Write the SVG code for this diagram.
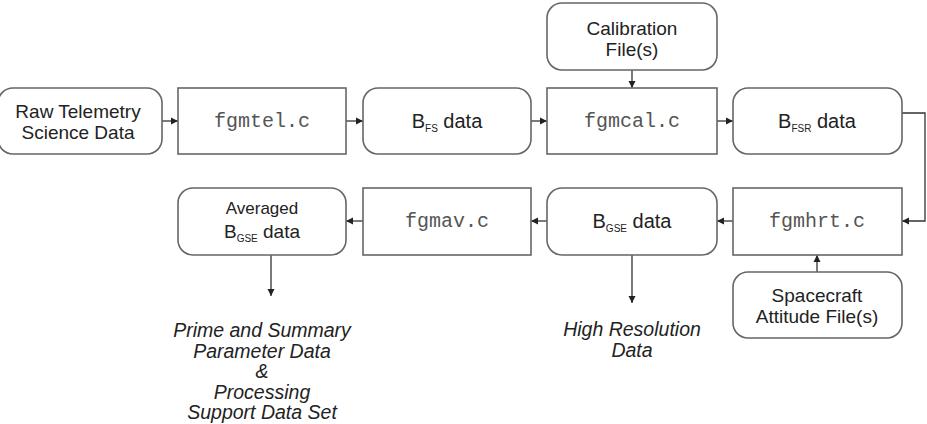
<svg xmlns="http://www.w3.org/2000/svg" width="927" height="424" viewBox="0 0 927 424">
<defs>
<marker id="ah" markerWidth="8" markerHeight="8" refX="7" refY="4" orient="auto" markerUnits="userSpaceOnUse">
<path d="M0,0.5 L7,4 L0,7.5 Z" fill="#222"/>
</marker>
<style>
.rn{fill:#fff;stroke:#666;stroke-width:1.6}
.sq{fill:#fff;stroke:#666;stroke-width:1.6}
.t{font-family:"Liberation Sans",Arial,sans-serif;font-size:19px;fill:#222;text-anchor:middle}
.ts{font-family:"Liberation Sans",Arial,sans-serif;font-size:17px;fill:#222;text-anchor:middle}
.sub{font-size:10px}
.m{font-family:"Liberation Mono","Courier New",monospace;font-size:20px;fill:#555;text-anchor:middle}
.it{font-family:"Liberation Sans",Arial,sans-serif;font-size:19.5px;font-style:italic;fill:#222;text-anchor:middle}
.c{fill:none;stroke:#333;stroke-width:1.3;marker-end:url(#ah)}
</style>
</defs>
<rect width="927" height="424" fill="#fff"/>
<g id="connectors">
<line class="c" x1="162" y1="121" x2="178" y2="121"/>
<line class="c" x1="346" y1="121" x2="363" y2="121"/>
<line class="c" x1="531" y1="121" x2="547" y2="121"/>
<line class="c" x1="717" y1="121" x2="733" y2="121"/>
<line class="c" x1="632" y1="70" x2="632" y2="88"/>
<polyline class="c" points="902,113 925,113 925,221 902,221"/>
<line class="c" x1="733" y1="221" x2="717" y2="221"/>
<line class="c" x1="547" y1="221" x2="531" y2="221"/>
<line class="c" x1="363" y1="221" x2="346" y2="221"/>
<line class="c" x1="817" y1="272" x2="817" y2="255"/>
<line class="c" x1="271" y1="255" x2="271" y2="296"/>
<line class="c" x1="632" y1="255" x2="632" y2="303"/>
</g>
<g id="raw">
<rect class="rn" x="-2" y="88" width="164" height="66" rx="15"/>
<text class="t" x="78" y="118">Raw Telemetry</text>
<text class="t" x="78" y="139">Science Data</text>
</g>
<g id="fgmtel">
<rect class="sq" x="178" y="88" width="168" height="66"/>
<text class="m" x="262" y="127">fgmtel.c</text>
</g>
<g id="bfs">
<rect class="rn" x="363" y="88" width="168" height="66" rx="15"/>
<text class="t" x="447" y="128" style="font-size:20px">B<tspan class="sub" dy="4">FS</tspan><tspan dy="-4"> data</tspan></text>
</g>
<g id="calibration">
<rect class="rn" x="547" y="3" width="170" height="67" rx="15"/>
<text class="t" x="632" y="35">Calibration</text>
<text class="t" x="632" y="56">File(s)</text>
</g>
<g id="fgmcal">
<rect class="sq" x="547" y="88" width="170" height="66"/>
<text class="m" x="632" y="127">fgmcal.c</text>
</g>
<g id="bfsr">
<rect class="rn" x="733" y="88" width="169" height="66" rx="15"/>
<text class="t" x="817" y="128" style="font-size:20px">B<tspan class="sub" dy="4">FSR</tspan><tspan dy="-4"> data</tspan></text>
</g>
<g id="fgmhrt">
<rect class="sq" x="733" y="188" width="169" height="67"/>
<text class="m" x="817" y="227">fgmhrt.c</text>
</g>
<g id="spacecraft">
<rect class="rn" x="733" y="272" width="169" height="66" rx="15"/>
<text class="t" x="817" y="302">Spacecraft</text>
<text class="t" x="817" y="323">Attitude File(s)</text>
</g>
<g id="bgse">
<rect class="rn" x="547" y="188" width="170" height="67" rx="15"/>
<text class="t" x="632" y="228" style="font-size:20px">B<tspan class="sub" dy="4">GSE</tspan><tspan dy="-4"> data</tspan></text>
</g>
<g id="fgmav">
<rect class="sq" x="363" y="188" width="168" height="67"/>
<text class="m" x="447" y="227">fgmav.c</text>
</g>
<g id="averaged">
<rect class="rn" x="178" y="188" width="168" height="67" rx="15"/>
<text class="ts" x="262" y="214">Averaged</text>
<text class="t" x="262" y="238">B<tspan class="sub" dy="4">GSE</tspan><tspan dy="-4"> data</tspan></text>
</g>
<g id="prime-output">
<text class="it" x="262" y="337">Prime and Summary</text>
<text class="it" x="262" y="357.5">Parameter Data</text>
<text class="it" x="262" y="378">&amp;</text>
<text class="it" x="262" y="398.5">Processing</text>
<text class="it" x="262" y="419">Support Data Set</text>
</g>
<g id="hires-output">
<text class="it" x="632" y="336">High Resolution</text>
<text class="it" x="632" y="357">Data</text>
</g>
</svg>
